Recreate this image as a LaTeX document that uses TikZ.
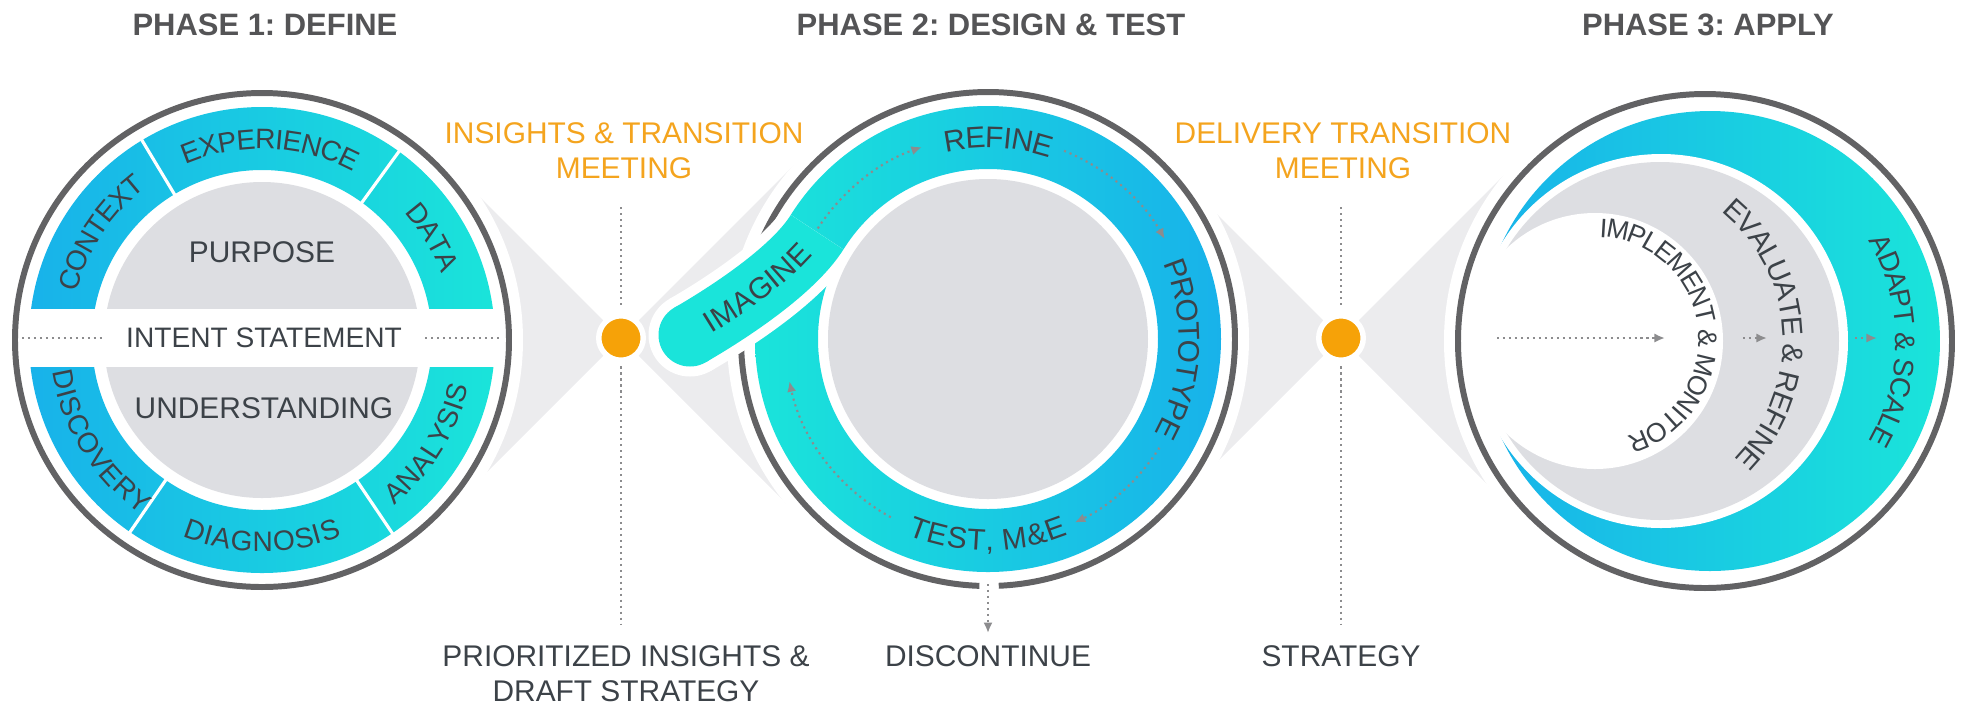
\documentclass[tikz,border=0pt]{standalone}
\usepackage{fontspec}
\setmainfont{Liberation Sans}
\usetikzlibrary{positioning, calc, arrows.meta, decorations.text}

\definecolor{cblue}{RGB}{24,178,234}
\definecolor{cturq}{RGB}{26,228,218}
\definecolor{diskgray}{RGB}{221,222,226}
\definecolor{wedgegray}{RGB}{236,236,238}
\definecolor{ringgray}{RGB}{98,98,100}
\definecolor{labelgray}{RGB}{60,66,72}
\definecolor{titlegray}{RGB}{84,84,86}
\definecolor{meetorange}{RGB}{244,164,30}
\definecolor{dotorange}{RGB}{246,162,8}
\definecolor{dotgray}{RGB}{140,140,142}

\begin{document}
\frenchspacing
\begin{tikzpicture}[x=0.01cm,y=0.01cm,
    rim/.style={draw=ringgray,line width=1.7pt},
    dotline/.style={draw=dotgray,line width=0.6pt,dash pattern=on 0.6pt off 1.1pt},
    flowline/.style={dotline,-{Latex[length=3pt,width=2.6pt]}},
    meeting/.style={circle,fill=dotorange,draw=white,line width=1.55pt,minimum size=12.65pt,inner sep=0},
    phase/.style={font=\fontsize{8.8}{10}\selectfont\bfseries,text=titlegray,inner sep=0,anchor=base},
    orangelabel/.style={font=\fontsize{8.5}{10}\selectfont,text=meetorange,align=center,inner sep=0},
    outcome/.style={font=\fontsize{8.5}{10}\selectfont,text=labelgray,align=center,inner sep=0,anchor=north},
    core/.style={font=\fontsize{8.5}{10}\selectfont,text=labelgray,inner sep=0},
    arclabel/.style 2 args={decorate,decoration={text along path,text align=center,raise=-2.9pt,
        text={|\fontsize{#1}{#1}\selectfont\color{labelgray}|#2}}}]
    \useasboundingbox (0,0) rectangle (1968,-705);

    \coordinate (c1) at (262,-340);
    \coordinate (c2) at (988,-339);
    \coordinate (c3) at (1705,-341);
    \coordinate (m1) at (621,-338);
    \coordinate (m2) at (1341,-338);

    % grey funnels between the phases
    \fill[wedgegray] (c1) -- (441.5,-158.5) -- (m1) -- (804.5,-154.5) -- (c2) -- (804.5,-521.5) -- (m1) -- (441.5,-517.5) -- cycle;
    \fill[wedgegray] (c2) -- (1164.5,-161.5) -- (m2) -- (1523,-156) -- (c3) -- (1523,-520) -- (m2) -- (1164.5,-514.5) -- cycle;
    \fill[white] (c1) circle (261) (c2) circle (261) (c3) circle (261);

    % phase 1
    \draw[rim] (c1) circle (247);
    \shade[left color=cblue,right color=cturq,even odd rule] (c1) circle (233) (c1) circle (170);
    \fill[diskgray] (c1) circle (158);
    \fill[white] (22,-309) rectangle (502,-367);
    \foreach \a in {121,54,-56,-124.5}
        \draw[white,line width=0.9pt] ([shift={(\a:165)}]c1) -- ([shift={(\a:238)}]c1);
    \node[core] (purpose) at (262,-252) {PURPOSE};
    \node[core] (understanding) at (264,-408) {UNDERSTANDING};
    \node[core,font=\fontsize{8}{10}\selectfont] (intent) at (264,-338) {INTENT STATEMENT};
    \coordinate (bandl) at (22,-338);
    \coordinate (bandr) at (503,-338);
    \draw[dotline] (bandl) -- ([xshift=-6.5pt]intent.west);
    \draw[dotline] ([xshift=6.5pt]intent.east) -- (bandr);
    \path[arclabel={8}{CONTEXT}] ([shift={(206.5:201.5)}]c1) arc[start angle=206.5,end angle=86.5,radius=201.5];
    \path[arclabel={8}{EXPERIENCE}] ([shift={(147.5:201.5)}]c1) arc[start angle=147.5,end angle=27.5,radius=201.5];
    \path[arclabel={8}{DATA}] ([shift={(91:201.5)}]c1) arc[start angle=91,end angle=-29,radius=201.5];
    \path[arclabel={8}{DISCOVERY}] ([shift={(152:201.5)}]c1) arc[start angle=152,end angle=272,radius=201.5];
    \path[arclabel={8}{DIAGNOSIS}] ([shift={(-150:201.5)}]c1) arc[start angle=-150,end angle=-30,radius=201.5];
    \path[arclabel={8}{ANALYSIS}] ([shift={(-92:201.5)}]c1) arc[start angle=-92,end angle=28,radius=201.5];

    % phase 2
    \draw[rim] ([shift={(178:247)}]c2) arc[start angle=178,end angle=268,radius=247];
    \draw[rim] ([shift={(272.5:247)}]c2) arc[start angle=272.5,end angle=525,radius=247];
    \shade[left color=cturq,right color=cblue,even odd rule] (c2) circle (233) (c2) circle (170);
    \coordinate (tailroot) at (817.1,-232.2);
    \coordinate (tailtip) at (690,-335);
    \draw[white,line width=23.6pt] (tailroot) .. controls (793.2,-270.4) and (729,-312.5) .. (tailtip);
    \fill[white] (tailtip) circle (41.5);
    \draw[cturq,line width=17.9pt] (tailroot) .. controls (793.2,-270.4) and (729,-312.5) .. (tailtip);
    \fill[cturq] (tailtip) circle (31.5);
    \fill[diskgray] (c2) circle (160);
    \draw[flowline] ([shift={(147:203)}]c2) arc[start angle=147,end angle=109,radius=203];
    \draw[flowline] ([shift={(68:203)}]c2) arc[start angle=68,end angle=29.5,radius=203];
    \draw[flowline] ([shift={(-32.4:203)}]c2) arc[start angle=-32.4,end angle=-64.7,radius=203];
    \draw[flowline] ([shift={(-118.6:203)}]c2) arc[start angle=-118.6,end angle=-168,radius=203];
    \path[arclabel={8.5}{IMAGINE}] (tailtip) .. controls (729,-312.5) and (793.2,-270.4) .. (tailroot);
    \path[arclabel={8.5}{REFINE}] ([shift={(147:201.5)}]c2) arc[start angle=147,end angle=27,radius=201.5];
    \path[arclabel={8.5}{PROTOTYPE}] ([shift={(57:201.5)}]c2) arc[start angle=57,end angle=-63,radius=201.5];
    \path[arclabel={8.5}{TEST, M{\&}E}] ([shift={(-150:201.5)}]c2) arc[start angle=-150,end angle=-30,radius=201.5];

    % phase 3
    \draw[rim] (c3) circle (247);
    \shade[left color=cblue,middle color=cturq,right color=cturq] (1710,-341) circle (230);
    \fill[white] (1661,-341) circle (187);
    \fill[diskgray] (1660,-341) circle (179);
    \fill[white] (1595,-341) circle (128);
    \coordinate (adapt) at (1697,-341);
    \coordinate (evalc) at (1616,-341);
    \coordinate (implc) at (1597,-339);
    \coordinate (go0) at (1497,-338);
    \coordinate (go1) at (1665,-338);
    \coordinate (go2) at (1743,-338);
    \coordinate (go3) at (1767,-338);
    \coordinate (go4) at (1855,-338);
    \coordinate (go5) at (1877,-338);
    \draw[flowline] (go0) -- (go1);
    \draw[flowline] (go2) -- (go3);
    \draw[flowline] (go4) -- (go5);
    \path[arclabel={7.6}{IMPLEMENT {\&} MONITOR}] ([shift={(118:112)}]implc) arc[start angle=118,end angle=-102,radius=112];
    \path[arclabel={8.3}{EVALUATE {\&} REFINE}] ([shift={(70:177)}]evalc) arc[start angle=70,end angle=-64,radius=177];
    \path[arclabel={8}{ADAPT {\&} SCALE}] ([shift={(60:209)}]adapt) arc[start angle=60,end angle=-60,radius=209];

    % transition meetings
    \node[meeting] (dot1) at (m1) {};
    \node[meeting] (dot2) at (m2) {};
    \node[orangelabel] (meet1) at (624,-150.5) {INSIGHTS \& TRANSITION\\MEETING};
    \node[orangelabel] (meet2) at (1343,-150.5) {DELIVERY TRANSITION\\MEETING};
    \node[outcome] (out1) at (626,-645) {PRIORITIZED INSIGHTS \&\\DRAFT STRATEGY};
    \node[outcome] (out2) at (988,-645) {DISCONTINUE};
    \node[outcome] (out3) at (1341,-645) {STRATEGY};
    \draw[dotline] ($(dot1.north |- meet1.south)+(0,-28)$) -- ([yshift=2pt]dot1.north);
    \draw[dotline] ([yshift=-1pt]dot1.south) -- ($(dot1.south |- out1.north)+(0,21)$);
    \draw[dotline] ($(dot2.north |- meet2.south)+(0,-28)$) -- ([yshift=2pt]dot2.north);
    \draw[dotline] ([yshift=-1pt]dot2.south) -- ($(dot2.south |- out3.north)+(0,21)$);
    \coordinate (exit2) at (988,-584);
    \draw[flowline] (exit2) -- ([yshift=3.4pt]out2.north);

    \node[phase] (ph1) at (265,-35) {PHASE 1: DEFINE};
    \node[phase] (ph2) at (991,-35) {PHASE 2: DESIGN \& TEST};
    \node[phase] (ph3) at (1708,-35) {PHASE 3: APPLY};
\end{tikzpicture}
\end{document}
